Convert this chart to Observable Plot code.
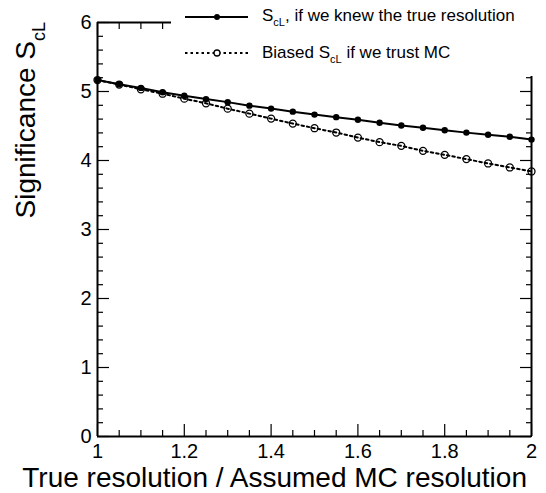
<!DOCTYPE html>
<html><head><meta charset="utf-8">
<script src="https://cdn.jsdelivr.net/npm/d3@7"></script>
<script src="https://cdn.jsdelivr.net/npm/@observablehq/plot@0.6"></script>
<style>body{margin:0;background:#fff;overflow:hidden} #chart{width:546px;height:493px}</style>
</head><body><div id="chart"></div>
<script>
// ---- data ----
const resolutionRatio = [1.00,1.05,1.10,1.15,1.20,1.25,1.30,1.35,1.40,1.45,1.50,1.55,1.60,1.65,1.70,1.75,1.80,1.85,1.90,1.95,2.00];
const sigTrue   = [5.166,5.104,5.052,4.990,4.938,4.890,4.846,4.795,4.752,4.708,4.665,4.628,4.590,4.548,4.508,4.475,4.438,4.404,4.374,4.345,4.303];
const sigBiased = [5.166,5.101,5.032,4.968,4.896,4.829,4.751,4.679,4.607,4.535,4.468,4.405,4.332,4.266,4.212,4.140,4.082,4.020,3.957,3.899,3.841];
const xTickLabels = [1,1.2,1.4,1.6,1.8,2];
const yTickLabels = [0,1,2,3,4,5,6];
const xTitle = "True resolution / Assumed MC resolution";
const yTitleMain = "Significance S";
const yTitleSub = "cL";
const legendTrue = ["S", "cL", ", if we knew the true resolution"];
const legendBiased = ["Biased S", "cL", " if we trust MC"];

const xMinor = d3.range(1, 2.0001, 0.05).map(v => +v.toFixed(2)).filter(v => !xTickLabels.some(t => Math.abs(t - v) < 1e-6));
const yMinor = d3.range(0, 6.0001, 0.2).map(v => +v.toFixed(1)).filter(v => !yTickLabels.some(t => Math.abs(t - v) < 1e-6));

const trueRows = resolutionRatio.map((x, i) => ({x, y: sigTrue[i]}));
const biasedRows = resolutionRatio.map((x, i) => ({x, y: sigBiased[i]}));

const FONT = "Liberation Sans, Arial, Helvetica, sans-serif";
const W = 546, H = 493, ML = 97, MR = 15, MT = 22, MB = 57;
const blank = () => "";
const tk = {stroke: "#000", strokeWidth: 1.2, label: null, tickFormat: blank, fontSize: 1};

const plot = Plot.plot({
  width: W, height: H,
  marginLeft: ML, marginRight: MR, marginTop: MT, marginBottom: MB,
  style: {fontFamily: FONT, background: "#fff", color: "#000"},
  x: {domain: [1, 2]},
  y: {domain: [0, 6]},
  marks: [
    // inward ticks on all four sides (negative tick size points into the frame)
    Plot.axisX(xTickLabels, {anchor: "bottom", tickSize: -12, ...tk}),
    Plot.axisX(xMinor, {anchor: "bottom", tickSize: -6, ...tk}),
    Plot.axisX(xTickLabels, {anchor: "top", tickSize: -12, ...tk}),
    Plot.axisX(xMinor, {anchor: "top", tickSize: -6, ...tk}),
    Plot.axisY(yTickLabels, {anchor: "left", tickSize: -12, ...tk}),
    Plot.axisY(yMinor, {anchor: "left", tickSize: -6, ...tk}),
    Plot.axisY(yTickLabels, {anchor: "right", tickSize: -12, ...tk}),
    Plot.axisY(yMinor, {anchor: "right", tickSize: -6, ...tk}),
    // tick labels
    Plot.axisX(xTickLabels, {anchor: "bottom", tickSize: 0, tickPadding: 7, fontSize: 20, label: null, tickFormat: d => String(d)}),
    Plot.axisY(yTickLabels, {anchor: "left", tickSize: 0, tickPadding: 6, fontSize: 20, label: null, tickFormat: d => String(d)}),
    // frame
    Plot.ruleX([1, 2], {stroke: "#000", strokeWidth: 2}),
    Plot.ruleY([0, 6], {stroke: "#000", strokeWidth: 2}),
    // biased series
    Plot.line(biasedRows, {x: "x", y: "y", stroke: "#000", strokeWidth: 2, strokeDasharray: "2.5,3"}),
    Plot.dot(biasedRows, {x: "x", y: "y", r: 3.5, stroke: "#000", strokeWidth: 1.3, fill: "none"}),
    // true series
    Plot.line(trueRows, {x: "x", y: "y", stroke: "#000", strokeWidth: 2}),
    Plot.dot(trueRows, {x: "x", y: "y", r: 3.2, fill: "#000", stroke: "none"})
  ]
});
document.getElementById("chart").appendChild(plot);

// titles and legend
const svg = d3.select(plot);
const xs = plot.scale("x"), ys = plot.scale("y");
const fx1 = xs.apply(2), fy0 = ys.apply(0), fy1 = ys.apply(6);

svg.append("text")
  .attr("x", fx1 - 4).attr("y", fy0 + 51)
  .attr("text-anchor", "end")
  .attr("font-family", FONT).attr("font-size", 28).attr("fill", "#000")
  .text(xTitle);

const yt = svg.append("text")
  .attr("transform", `translate(35,${fy1}) rotate(-90)`)
  .attr("text-anchor", "end")
  .attr("font-family", FONT).attr("font-size", 28).attr("fill", "#000");
yt.append("tspan").text(yTitleMain);
yt.append("tspan").attr("font-size", 18).attr("dy", 10).text(yTitleSub);

// legend
const lg = svg.append("g");
lg.append("rect").attr("x", 171).attr("y", 0).attr("width", 375).attr("height", 76)
  .attr("fill", "#fff").attr("stroke", "none");
function legendRow(yLine, yText, parts, dashed) {
  lg.append("line").attr("x1", 185).attr("x2", 248).attr("y1", yLine).attr("y2", yLine)
    .attr("stroke", "#000").attr("stroke-width", 2).attr("stroke-dasharray", dashed ? "2.5,3" : null);
  if (dashed) {
    lg.append("circle").attr("cx", 217).attr("cy", yLine).attr("r", 3).attr("fill", "#fff").attr("stroke", "#000").attr("stroke-width", 1.3);
  } else {
    lg.append("circle").attr("cx", 217).attr("cy", yLine).attr("r", 3).attr("fill", "#000");
  }
  const t = lg.append("text").attr("x", 262).attr("y", yText).attr("text-anchor", "start")
    .attr("font-family", FONT).attr("font-size", 17).attr("fill", "#000");
  t.append("tspan").text(parts[0]);
  t.append("tspan").attr("font-size", 11).attr("dy", 5).text(parts[1]);
  t.append("tspan").attr("dy", -5).text(parts[2]);
}
legendRow(17, 21, legendTrue, false);
legendRow(53, 58, legendBiased, true);
</script>
</body></html>
